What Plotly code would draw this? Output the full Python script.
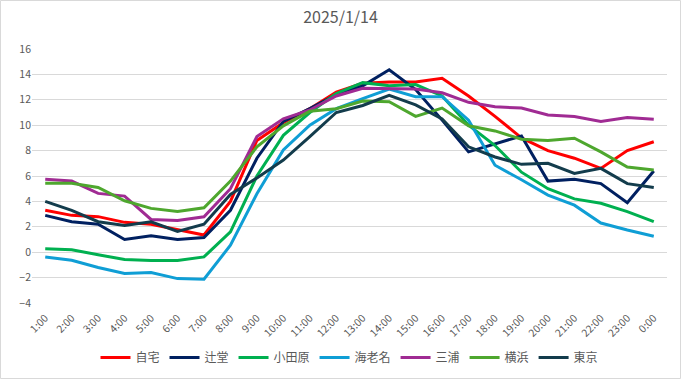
import plotly.graph_objects as go

hours = ["1:00", "2:00", "3:00", "4:00", "5:00", "6:00", "7:00", "8:00", "9:00", "10:00",
         "11:00", "12:00", "13:00", "14:00", "15:00", "16:00", "17:00", "18:00", "19:00",
         "20:00", "21:00", "22:00", "23:00", "0:00"]

jitaku = [3.3, 2.9, 2.8, 2.35, 2.2, 1.8, 1.35, 4.0, 8.8, 10.2, 11.3, 12.6, 13.3, 13.4, 13.4, 13.7,
          12.3, 10.7, 9.0, 8.0, 7.4, 6.6, 8.0, 8.7]
tsujido = [2.9, 2.4, 2.2, 1.0, 1.3, 1.0, 1.15, 3.3, 7.4, 10.3, 11.3, 12.4, 13.1, 14.37, 12.8, 10.4,
           7.9, 8.5, 9.15, 5.6, 5.75, 5.4, 3.9, 6.4]
odawara = [0.28, 0.2, -0.2, -0.58, -0.66, -0.66, -0.37, 1.6, 6.0, 9.2, 11.0, 12.5, 13.35, 13.1, 13.2, 12.3,
           10.0, 8.4, 6.3, 5.0, 4.2, 3.85, 3.2, 2.4]
ebina = [-0.37, -0.63, -1.2, -1.68, -1.6, -2.08, -2.13, 0.55, 4.6, 8.05, 10.0, 11.3, 12.1, 12.85, 12.25, 12.25,
         10.4, 6.85, 5.7, 4.5, 3.7, 2.3, 1.75, 1.25]
miura = [5.74, 5.6, 4.63, 4.42, 2.58, 2.5, 2.79, 5.0, 9.1, 10.5, 11.2, 12.3, 12.9, 12.9, 12.85, 12.55,
         11.8, 11.45, 11.35, 10.8, 10.68, 10.3, 10.6, 10.47]
yokohama = [5.42, 5.42, 5.1, 4.05, 3.45, 3.2, 3.5, 5.6, 8.3, 9.95, 11.1, 11.3, 11.9, 11.85, 10.7, 11.35,
            9.95, 9.55, 8.9, 8.8, 8.97, 7.9, 6.7, 6.47]
tokyo = [4.0, 3.3, 2.4, 2.1, 2.4, 1.63, 2.2, 4.55, 5.85, 7.26, 9.1, 11.0, 11.55, 12.35, 11.6, 10.5,
         8.3, 7.5, 6.92, 7.0, 6.2, 6.6, 5.4, 5.1]

series_names = ["自宅", "辻堂", "小田原", "海老名", "三浦", "横浜", "東京"]
series_values = [jitaku, tsujido, odawara, ebina, miura, yokohama, tokyo]
series_colors = ["#FF0000", "#002060", "#00B050", "#0F9ED5", "#A02B93", "#4EA72E", "#133C4C"]

y_ticks = [-4, -2, 0, 2, 4, 6, 8, 10, 12, 14, 16]

fig = go.Figure()
for name, vals, col in zip(series_names, series_values, series_colors):
    fig.add_trace(go.Scatter(x=hours, y=vals, name=name, mode="lines",
                             line=dict(color=col, width=3)))

font_family = "Noto Sans CJK JP, Noto Sans, sans-serif"
fig.update_layout(
    width=681, height=379,
    margin=dict(l=32, r=14, t=49, b=76, autoexpand=False),
    paper_bgcolor="white", plot_bgcolor="white",
    title=dict(text="2025/1/14", x=0.5, xanchor="center", y=0.955, yanchor="middle",
               font=dict(family=font_family, size=16, color="#595959")),
    font=dict(family=font_family, color="#595959", size=11),
    showlegend=True,
    legend=dict(orientation="h", x=0.5, xanchor="center", y=-0.215, yanchor="middle",
                font=dict(size=12, color="#595959"), bgcolor="rgba(0,0,0,0)",
                itemwidth=30, tracegroupgap=0),
    xaxis=dict(type="category", range=[-0.5, len(hours) - 0.5], tickangle=-45,
               showgrid=False, zeroline=False, automargin=False, ticklabelstandoff=6,
               showline=False, ticks="", tickfont=dict(size=10.5, color="#595959")),
    yaxis=dict(range=[-4, 16], tickvals=y_ticks, showgrid=True, gridcolor="#D9D9D9",
               gridwidth=1, zeroline=True, zerolinecolor="#D9D9D9", zerolinewidth=1,
               showline=False, ticks="", automargin=False,
               tickfont=dict(size=10.5, color="#595959")),
    shapes=[dict(type="rect", xref="paper", yref="paper",
                 x0=(0.5 - 32) / 635, x1=(680.5 - 32) / 635,
                 y0=(303 - 378.5) / 254, y1=(303 - 0.5) / 254,
                 line=dict(color="#D9D9D9", width=1), layer="below")],
)

fig.write_html("out.html", config={"displayModeBar": False},
               post_script="document.body.style.margin='0';document.body.style.overflow='hidden';")
